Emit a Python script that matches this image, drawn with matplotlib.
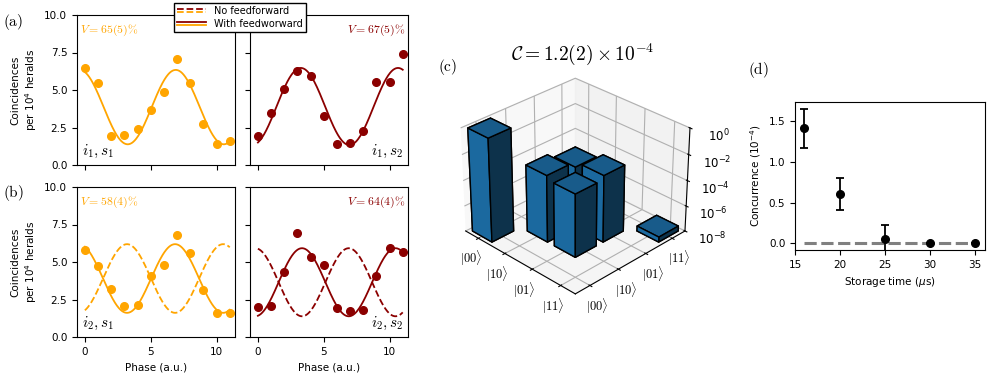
import numpy as np
import matplotlib
matplotlib.use('Agg')
import matplotlib.pyplot as plt
from matplotlib.lines import Line2D
from matplotlib.legend_handler import HandlerBase

plt.rcParams['mathtext.fontset'] = 'cm'
plt.rcParams['font.size'] = 7.5

ORANGE = '#FFA500'
DARKRED = '#8B0000'

# coincidences per 10^4 heralds vs phase step
phase = np.arange(12)
i1s1 = [6.50, 5.49, 1.94, 2.03, 2.37, 3.66, 4.89, 7.08, 5.45, 2.72, 1.43, 1.58]
i1s2 = [1.92, 3.50, 5.09, 6.27, 5.94, 3.28, 1.38, 1.45, 2.28, 5.51, 5.56, 7.39]
i2s1 = [5.78, 4.71, 3.19, 2.08, 2.12, 4.04, 4.78, 6.79, 5.63, 3.15, 1.61, 1.61]
i2s2 = [1.99, 2.05, 4.35, 6.92, 5.36, 4.82, 1.92, 1.74, 1.79, 4.04, 5.92, 5.67]

# cosine fits: offset, amplitude, period, position of maximum
fit_i1s1 = (3.86, 2.48, 7.3, 6.90)
fit_i1s2 = (3.90, 2.57, 7.38, 3.26)
fit_i2s1 = (3.90, 2.29, 7.3, 6.85)
fit_i2s2 = (3.65, 2.27, 7.1, 3.35)

vis_labels = ['$V = 65(5)\\%$', '$V = 67(5)\\%$', '$V = 58(4)\\%$', '$V = 64(4)\\%$']
pair_labels = ['$i_1, s_1$', '$i_1, s_2$', '$i_2, s_1$', '$i_2, s_2$']

# density matrix elements (row, col, value), log z axis
rho_row = [0, 1, 1, 2, 2, 3]
rho_col = [0, 1, 2, 1, 2, 3]
rho_val = [0.99, 1.6e-3, 6e-4, 8e-4, 1.6e-3, 2.5e-8]
ket_labels = [r'$|00\rangle$', r'$|10\rangle$', r'$|01\rangle$', r'$|11\rangle$']

# concurrence vs storage time
t_store = [16, 20, 25, 30, 35]
conc = [1.41, 0.60, 0.05, 0.0, 0.0]
conc_err = [0.24, 0.195, 0.18, 0.0, 0.0]


def cosfit(x, p):
    a, b, per, x0 = p
    return a + b * np.cos(2 * np.pi * (x - x0) / per)


def cosfit_flip(x, p):
    a, b, per, x0 = p
    return a - b * np.cos(2 * np.pi * (x - x0) / per)


class TwoLineHandler(HandlerBase):
    def __init__(self, ls):
        super().__init__()
        self.ls = ls

    def create_artists(self, legend, orig_handle, xdescent, ydescent,
                       width, height, fontsize, trans):
        out = []
        for col, dy in ((DARKRED, 0.72), (ORANGE, 0.28)):
            out.append(Line2D([-xdescent, width - xdescent],
                              [height * dy - ydescent] * 2, color=col,
                              ls=self.ls, lw=1.3, transform=trans))
        return out


W, H = 997, 382
fig = plt.figure(figsize=(9.97, 3.82), dpi=100)


def box(x0, y0, x1, y1):
    return [x0 / W, 1 - y1 / H, (x1 - x0) / W, (y1 - y0) / H]


axes = [fig.add_axes(box(77, 15, 235, 165)),
        fig.add_axes(box(250, 15, 408, 165)),
        fig.add_axes(box(77, 187, 235, 337)),
        fig.add_axes(box(250, 187, 408, 337))]

data = [i1s1, i1s2, i2s1, i2s2]
fits = [fit_i1s1, fit_i1s2, fit_i2s1, fit_i2s2]
cols = [ORANGE, DARKRED, ORANGE, DARKRED]
xf = np.linspace(0, 11, 300)

for k, ax in enumerate(axes):
    ax.plot(phase, data[k], 'o', color=cols[k], ms=5.5)
    ax.plot(xf, cosfit(xf, fits[k]), '-', color=cols[k], lw=1.3)
    if k >= 2:
        ax.plot(xf, cosfit_flip(xf, fits[k]), '--', color=cols[k], lw=1.3)
    ax.set_ylim(0, 10)
    ax.set_xlim(-0.6, 11.4)
    ax.set_xticks([0, 5, 10])
    ax.set_yticks([0, 2.5, 5, 7.5, 10])
    left = (k % 2 == 0)
    if left:
        ax.set_ylabel('Coincidences\nper $10^4$ heralds', fontsize=7.5,
                      math_fontfamily='dejavusans')
        ax.text(0.02, 0.95, vis_labels[k], color=cols[k], fontsize=8.5,
                transform=ax.transAxes, ha='left', va='top')
        ax.text(0.03, 0.03, pair_labels[k], fontsize=11,
                transform=ax.transAxes, ha='left', va='bottom')
    else:
        ax.set_yticklabels([])
        ax.text(0.98, 0.95, vis_labels[k], color=cols[k], fontsize=8.5,
                transform=ax.transAxes, ha='right', va='top')
        ax.text(0.97, 0.03, pair_labels[k], fontsize=11,
                transform=ax.transAxes, ha='right', va='bottom')
    if k < 2:
        ax.set_xticklabels([])
    else:
        ax.set_xlabel('Phase (a.u.)')

h_no = Line2D([], [])
h_with = Line2D([], [])
fig.legend([h_no, h_with], ['No feedforward', 'With feedworward'],
           handler_map={h_no: TwoLineHandler('--'), h_with: TwoLineHandler('-')},
           loc='upper center', bbox_to_anchor=(240 / W, 1.005), fontsize=7,
           fancybox=False, edgecolor='k', framealpha=1, handlelength=3.0,
           borderpad=0.3, labelspacing=0.3, handletextpad=0.8)

# (c) density matrix
ax3 = fig.add_axes([0.4387, 0.196, 0.27, 0.645], projection='3d')
ax3.view_init(elev=30, azim=-45)
bw = 0.75
zr = np.log10(rho_val) + 8
ax3.bar3d(np.array(rho_row) - bw / 2, np.array(rho_col) - bw / 2,
          np.zeros(len(rho_val)), bw, bw, zr, color='#1f77b4',
          edgecolor='k', linewidth=1, shade=True)
ax3.set_xlim(-0.5, 3.5)
ax3.set_ylim(-0.5, 3.5)
ax3.set_zlim(0, 8)
ax3.set_xticks(range(4))
ax3.set_yticks(range(4))
ax3.set_xticklabels(ket_labels, fontsize=9)
ax3.set_yticklabels(ket_labels, fontsize=9)
ax3.xaxis.set_tick_params(pad=-2)
ax3.yaxis.set_tick_params(pad=-2)
ax3.set_zticks([0, 2, 4, 6, 8])
ax3.set_zticklabels(['$10^{-8}$', '$10^{-6}$', '$10^{-4}$', '$10^{-2}$', '$10^{0}$'],
                    fontsize=8.5, math_fontfamily='dejavusans')

# (d) concurrence
axd = fig.add_axes(box(795, 102, 985, 250))
axd.plot([16, 35], [0, 0], '--', color='gray', lw=2.2, dashes=(4, 1.5))
axd.errorbar(t_store, conc, yerr=conc_err, fmt='o', color='k', ms=5.5,
             capsize=3, elinewidth=1.3, capthick=1.3)
axd.set_xlim(15, 36.1)
axd.set_ylim(-0.08, 1.73)
axd.set_xticks([15, 20, 25, 30, 35])
axd.set_yticks([0, 0.5, 1.0, 1.5])
axd.set_xlabel('Storage time ($\\mu$s)', math_fontfamily='dejavusans')
axd.set_ylabel('Concurrence ($10^{-4}$)', math_fontfamily='dejavusans')

fig.text(583 / W, 1 - 54 / H, r'$\mathcal{C} = 1.2(2) \times 10^{-4}$',
         fontsize=14, ha='center', va='center')
for s, x, y in (('(a)', 3, 22), ('(b)', 3, 193), ('(c)', 438, 67), ('(d)', 748, 70)):
    fig.text(x / W, 1 - y / H, r'$\mathrm{' + s + '}$', fontsize=11,
             ha='left', va='center')

fig.savefig('out.png', dpi=100)
